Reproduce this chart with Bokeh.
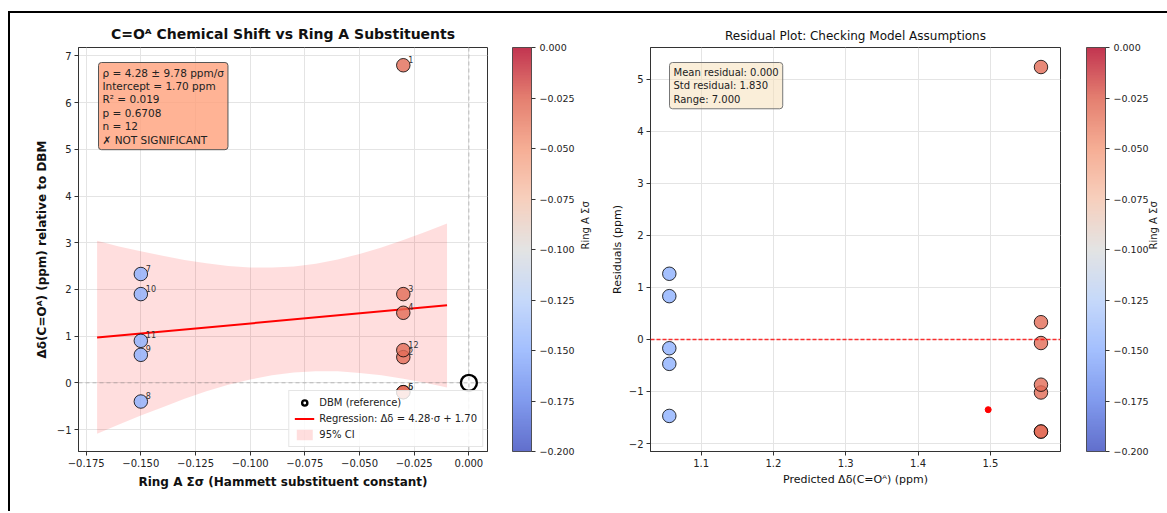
import math
import numpy as np
from bokeh.plotting import figure
from bokeh.models import (ColumnDataSource, LinearColorMapper, ColorBar, FixedTicker,
                          CustomJSTickFormatter, Label, Span, Legend, LegendItem, Range1d,
                          LinearAxis)
from bokeh.layouts import row
from bokeh.embed import file_html
from bokeh.resources import INLINE
from bokeh.transform import transform
from bokeh.core.properties import value

FONT = "DejaVu Sans"

# ---------------- data ----------------
compound_ids = ["1", "2", "3", "4", "5", "6", "7", "8", "9", "10", "11", "12"]
ring_a_sigma = [-0.03, -0.03, -0.03, -0.03, -0.03, -0.03, -0.15, -0.15, -0.15, -0.15, -0.15, -0.03]
delta_shift = [6.80, 0.55, 1.90, 1.50, -0.20, -0.20, 2.33, -0.40, 0.60, 1.90, 0.90, 0.70]

dbm_sigma = [0.0]
dbm_shift = [0.0]

fit_x = [-0.17, -0.01]
fit_y = [0.97, 1.66]

ci_x = [-0.17, -0.16, -0.15, -0.14, -0.13, -0.12, -0.11, -0.10, -0.09,
        -0.08, -0.07, -0.06, -0.05, -0.04, -0.03, -0.02, -0.01]
ci_lower = [-1.09, -0.89, -0.70, -0.52, -0.34, -0.18, -0.04, 0.07, 0.16,
            0.22, 0.25, 0.25, 0.21, 0.16, 0.09, 0.00, -0.10]
ci_upper = [3.04, 2.92, 2.82, 2.72, 2.63, 2.56, 2.50, 2.47, 2.47,
            2.49, 2.55, 2.64, 2.76, 2.90, 3.06, 3.23, 3.41]

predicted = [1.570, 1.570, 1.570, 1.570, 1.570, 1.570, 1.056, 1.056, 1.056, 1.056, 1.056, 1.570]
residuals = [5.23, -1.02, 0.33, -0.07, -1.77, -1.77, 1.26, -1.47, -0.47, 0.83, -0.17, -0.87]

extra_pred = [1.497]
extra_resid = [-1.35]

x_ticks_left = [-0.175, -0.150, -0.125, -0.100, -0.075, -0.050, -0.025, 0.000]
y_ticks_left = [-1, 0, 1, 2, 3, 4, 5, 6, 7]
x_ticks_right = [1.1, 1.2, 1.3, 1.4, 1.5]
y_ticks_right = [-2, -1, 0, 1, 2, 3, 4, 5]
cbar_ticks = [-0.200, -0.175, -0.150, -0.125, -0.100, -0.075, -0.050, -0.025, 0.000]
cbar_label = "Ring A Σσ"

stats_lines = ["ρ = 4.28 ± 9.78 ppm/σ", "Intercept = 1.70 ppm", "R² = 0.019",
               "p = 0.6708", "n = 12", "✗ NOT SIGNIFICANT"]
resid_stats_lines = ["Mean residual: 0.000", "Std residual: 1.830", "Range: 7.000"]

# ---------------- colour map (coolwarm) ----------------
cw_pos = [0.0, 0.125, 0.25, 0.375, 0.5, 0.625, 0.75, 0.875, 1.0]
cw_rgb = [(59, 76, 192), (98, 130, 234), (141, 176, 254), (184, 208, 249), (221, 221, 221),
          (245, 196, 173), (244, 154, 123), (222, 96, 77), (180, 4, 38)]
tt = np.linspace(0, 1, 256)
chan = [np.interp(tt, cw_pos, [c[i] for c in cw_rgb]) for i in range(3)]
palette = ["#%02x%02x%02x" % (int(round(r)), int(round(g)), int(round(b)))
           for r, g, b in zip(*chan)]
mapper = LinearColorMapper(palette=palette, low=-0.2, high=0.0)


def fmt(digits):
    return CustomJSTickFormatter(code=f"""
const v = Math.abs(tick) < 1e-12 ? 0 : tick;
return v.toFixed({digits}).replace('-', '\\u2212');
""")


def style_axes(p, xticks, yticks, xd, yd, bold, lab_size):
    for ax in (p.xaxis[0], p.yaxis[0]):
        ax.major_label_text_font = FONT
        ax.major_label_text_font_size = "10px"
        ax.major_label_text_color = "#222222"
        ax.axis_label_text_font = FONT
        ax.axis_label_text_font_size = lab_size
        ax.axis_label_text_font_style = "bold" if bold else "normal"
        ax.axis_label_text_color = "#111111"
        ax.major_tick_out = 4
        ax.major_tick_in = 0
        ax.minor_tick_out = 0
        ax.minor_tick_in = 0
        ax.major_tick_line_color = "#333333"
        ax.axis_line_color = "#333333"
        ax.axis_label_standoff = 5
        ax.major_label_standoff = 3
    p.xaxis[0].ticker = FixedTicker(ticks=xticks)
    p.yaxis[0].ticker = FixedTicker(ticks=yticks)
    p.xaxis[0].formatter = fmt(xd)
    p.yaxis[0].formatter = fmt(yd)
    p.xgrid.grid_line_color = "#e4e4e4"
    p.ygrid.grid_line_color = "#e4e4e4"
    p.outline_line_color = "#333333"
    p.outline_line_width = 1
    p.outline_line_alpha = 1


def add_colorbar(p, frame_h, gap, cap_standoff, cap_shift):
    cb = ColorBar(color_mapper=mapper, width=19, height=frame_h,
                  ticker=FixedTicker(ticks=cbar_ticks), formatter=fmt(3),
                  major_label_text_font=FONT, major_label_text_font_size="9.5px",
                  major_label_text_color="#222222",
                  major_tick_out=4, major_tick_in=0, major_tick_line_color="#333333",
                  minor_tick_out=0, minor_tick_in=0,
                  bar_line_color="#333333", bar_line_width=1, scale_alpha=0.8,
                  padding=0, margin=0, background_fill_alpha=0, border_line_color=None,
                  label_standoff=4, location=(gap, 0))
    p.add_layout(cb, "right")
    # caption of the colour bar: a tick-less axis (pixel range) carrying only its label
    p.extra_y_ranges = {"cap": Range1d(0, frame_h)}
    cap = LinearAxis(y_range_name="cap", bounds=(0, frame_h - 2 * cap_shift),
                     ticker=FixedTicker(ticks=[]), axis_label=cbar_label, axis_line_color=None,
                     major_tick_out=0, major_tick_in=0, minor_tick_out=0, minor_tick_in=0,
                     major_label_text_font_size="0px", major_label_standoff=0,
                     axis_label_standoff=cap_standoff, axis_label_text_font=FONT,
                     axis_label_text_font_size="10px", axis_label_text_font_style="normal",
                     axis_label_text_color="#222222", axis_label_text_align="center")
    try:
        cap.axis_label_orientation = math.pi / 2
    except Exception:
        pass
    p.add_layout(cap, "right")


# ---------------- left panel ----------------
src = ColumnDataSource(dict(x=ring_a_sigma, y=delta_shift, s=ring_a_sigma, lab=compound_ids,
                            px=predicted, r=residuals))

W1, H = 590, 498
p1 = figure(width=W1, height=H, x_range=Range1d(-0.1785, 0.0085), y_range=Range1d(-1.47, 7.18),
            output_backend="svg", toolbar_location=None,
            min_border_left=68, min_border_right=113, min_border_top=34, min_border_bottom=60,
            title="C=Oᴬ Chemical Shift vs Ring A Substituents")
p1.title.align = "center"
p1.title.text_font = FONT
p1.title.text_font_size = "14px"
p1.title.text_font_style = "bold"
p1.title.text_color = "#111111"
p1.title.standoff = 11
p1.xaxis.axis_label = "Ring A Σσ (Hammett substituent constant)"
p1.yaxis.axis_label = "Δδ(C=Oᴬ) (ppm) relative to DBM"
style_axes(p1, x_ticks_left, y_ticks_left, 3, 0, True, "12px")

ci = p1.varea(x=ci_x, y1=ci_lower, y2=ci_upper, fill_color="red", fill_alpha=0.13)
p1.add_layout(Span(location=0, dimension="width", line_color="gray", line_alpha=0.6,
                   line_dash="4 3", line_width=0.8))
p1.add_layout(Span(location=0, dimension="height", line_color="gray", line_alpha=0.6,
                   line_dash="4 3", line_width=0.8))
reg = p1.line(fit_x, fit_y, line_color="red", line_width=2)
p1.scatter("x", "y", source=src, size=13.5, fill_color=transform("s", mapper), fill_alpha=0.8,
           line_color="black", line_width=1, line_alpha=0.8)
p1.text("x", "y", text="lab", source=src, x_offset=5, y_offset=-6,
        text_font=value(FONT), text_font_size="8px", text_color="#333333",
        text_baseline="alphabetic")
dbm = p1.scatter(dbm_sigma, dbm_shift, size=16, fill_color="white", line_color="black",
                 line_width=2.4)

legend = Legend(items=[LegendItem(label="DBM (reference)", renderers=[dbm]),
                       LegendItem(label="Regression: Δδ = 4.28·σ + 1.70", renderers=[reg]),
                       LegendItem(label="95% CI", renderers=[ci])],
                location="bottom_right", label_text_font=FONT, label_text_font_size="10px",
                label_text_color="#222222", label_height=13, glyph_height=13, glyph_width=20,
                spacing=3, padding=5, margin=4, border_line_color="#cccccc",
                background_fill_alpha=0.85, label_standoff=5)
p1.add_layout(legend)

p1.add_layout(Label(x=20, y=389, x_units="screen", y_units="screen",
                    text="\n".join(stats_lines), text_font=FONT, text_font_size="10.5px",
                    text_color="#222222", text_baseline="top", text_align="left",
                    text_line_height=1.12,
                    background_fill_color="#FFA07A", background_fill_alpha=0.8,
                    border_line_color="#555555", border_line_width=1,
                    border_radius=3, padding=4))
add_colorbar(p1, 404, 25, 8, 30)

# ---------------- right panel ----------------
W2 = 567
p2 = figure(width=W2, height=H, x_range=Range1d(1.030, 1.597), y_range=Range1d(-2.153, 5.605),
            output_backend="svg", toolbar_location=None,
            min_border_left=50, min_border_right=107, min_border_top=34, min_border_bottom=60,
            title="Residual Plot: Checking Model Assumptions")
p2.title.align = "center"
p2.title.text_font = FONT
p2.title.text_font_size = "12px"
p2.title.text_font_style = "normal"
p2.title.text_color = "#111111"
p2.title.standoff = 10
p2.xaxis.axis_label = "Predicted Δδ(C=Oᴬ) (ppm)"
p2.yaxis.axis_label = "Residuals (ppm)"
style_axes(p2, x_ticks_right, y_ticks_right, 1, 0, False, "11px")
p2.yaxis[0].axis_label_standoff = 2
p2.xaxis[0].axis_label_standoff = 3

p2.add_layout(Span(location=0, dimension="width", line_color="red", line_alpha=0.8,
                   line_dash="4 2", line_width=1.5))
p2.scatter("px", "r", source=src, size=13.5, fill_color=transform("s", mapper), fill_alpha=0.8,
           line_color="black", line_width=1, line_alpha=0.8)
p2.scatter(extra_pred, extra_resid, size=6, fill_color="red", line_color="red")

p2.add_layout(Label(x=19, y=389, x_units="screen", y_units="screen",
                    text="\n".join(resid_stats_lines), text_font=FONT, text_font_size="10px",
                    text_color="#222222", text_baseline="top", text_align="left",
                    text_line_height=1.24,
                    background_fill_color="#F5DEB3", background_fill_alpha=0.5,
                    border_line_color="#777777", border_line_width=1,
                    border_radius=3, padding=4))
add_colorbar(p2, 404, 26, 2, 30)

layout = row(p1, p2, styles={"border-top": "2px solid black", "border-left": "2px solid black",
                             "margin-top": "11px", "margin-left": "8px"})

open("out.html", "w").write(file_html(layout, INLINE))
